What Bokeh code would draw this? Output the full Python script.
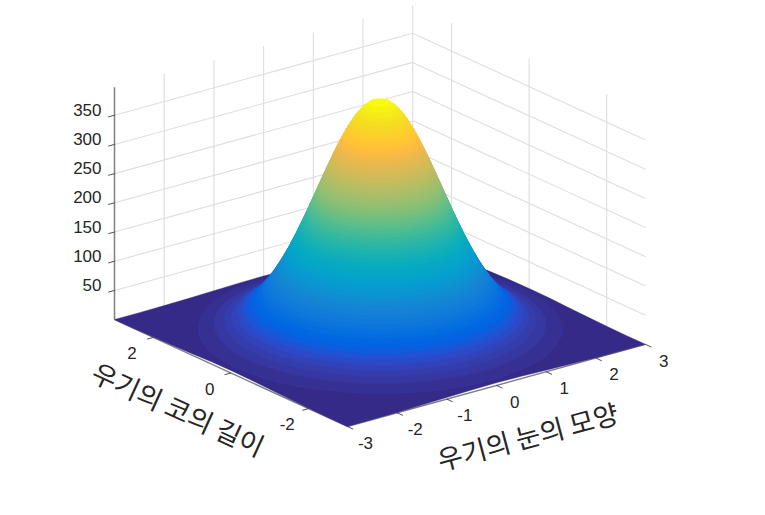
import math
from bokeh.plotting import figure
from bokeh.models import Range1d, ColumnDataSource
from bokeh.core.properties import value
from bokeh.embed import file_html
from bokeh.resources import INLINE

# ---- data ----
x_ticks = [-3, -2, -1, 0, 1, 2, 3]
y_ticks = [-2, 0, 2]
z_ticks = [50, 100, 150, 200, 250, 300, 350]
x_label = "우기의 눈의 모양"
y_label = "우기의 코의 길이"
peak_height = 398.0
# radius at which the surface enters each successive colour step (one per step above the floor)
level_radius = [
    2.884, 2.633, 2.474, 2.355, 2.258, 2.176, 2.104, 2.039, 1.981, 1.927,
    1.877, 1.830, 1.786, 1.743, 1.703, 1.665, 1.628, 1.593, 1.559, 1.525,
    1.493, 1.461, 1.431, 1.401, 1.371, 1.342, 1.314, 1.286, 1.258, 1.231,
    1.204, 1.177, 1.151, 1.125, 1.099, 1.073, 1.047, 1.021, 0.995, 0.970,
    0.944, 0.918, 0.892, 0.866, 0.839, 0.813, 0.786, 0.759, 0.731, 0.703,
    0.674, 0.644, 0.614, 0.583, 0.551, 0.517, 0.481, 0.444, 0.404, 0.359,
    0.310, 0.252, 0.177,
]
# height of the surface along each side of the box, which lifts off the axis mid-way
edge_position = [-3, -2.5, -2, -1.5, -1, -0.5, 0, 0.5, 1, 1.5, 2, 2.5, 3]
edge_height = [0.05, 0.19, 0.6, 1.43, 2.68, 3.9, 4.41, 3.9, 2.68, 1.43, 0.6, 0.19, 0.05]
parula = [
    (0.2081,0.1663,0.5292),(0.2116,0.1898,0.5777),(0.2123,0.2138,0.6270),(0.2081,0.2386,0.6771),
    (0.1959,0.2645,0.7279),(0.1707,0.2919,0.7792),(0.1253,0.3242,0.8303),(0.0591,0.3598,0.8683),
    (0.0117,0.3875,0.8820),(0.0060,0.4086,0.8828),(0.0165,0.4266,0.8786),(0.0329,0.4430,0.8720),
    (0.0498,0.4586,0.8641),(0.0629,0.4737,0.8554),(0.0723,0.4887,0.8467),(0.0779,0.5040,0.8384),
    (0.0793,0.5200,0.8312),(0.0749,0.5375,0.8263),(0.0641,0.5570,0.8240),(0.0488,0.5772,0.8228),
    (0.0343,0.5966,0.8199),(0.0265,0.6137,0.8135),(0.0239,0.6287,0.8038),(0.0231,0.6418,0.7913),
    (0.0228,0.6535,0.7768),(0.0267,0.6642,0.7607),(0.0384,0.6743,0.7436),(0.0590,0.6838,0.7254),
    (0.0843,0.6928,0.7062),(0.1133,0.7015,0.6859),(0.1453,0.7098,0.6646),(0.1801,0.7177,0.6424),
    (0.2178,0.7250,0.6193),(0.2586,0.7317,0.5954),(0.3022,0.7376,0.5712),(0.3482,0.7424,0.5473),
    (0.3953,0.7459,0.5244),(0.4420,0.7481,0.5033),(0.4871,0.7491,0.4840),(0.5300,0.7491,0.4661),
    (0.5709,0.7485,0.4494),(0.6099,0.7473,0.4337),(0.6473,0.7456,0.4188),(0.6834,0.7435,0.4044),
    (0.7184,0.7411,0.3905),(0.7525,0.7384,0.3768),(0.7858,0.7356,0.3633),(0.8185,0.7327,0.3498),
    (0.8507,0.7299,0.3360),(0.8824,0.7274,0.3217),(0.9139,0.7258,0.3063),(0.9450,0.7261,0.2886),
    (0.9739,0.7314,0.2666),(0.9938,0.7455,0.2403),(0.9990,0.7653,0.2164),(0.9955,0.7861,0.1967),
    (0.9880,0.8066,0.1794),(0.9789,0.8271,0.1633),(0.9697,0.8481,0.1475),(0.9626,0.8705,0.1309),
    (0.9589,0.8949,0.1132),(0.9598,0.9218,0.0948),(0.9661,0.9514,0.0755),(0.9763,0.9831,0.0538),
]

# ---- view: orthographic projection of the box into the page ----
ORIGIN = (379.5, 331.5)     # floor centre
UX = (49.7, -13.67)         # one X unit
UY = (-38.8, -17.8)         # one Y unit
UZ = -0.584                 # one Z unit
LIM = 3.0
Z_TOP = peak_height

def proj(x, y, z=0.0):
    return (ORIGIN[0] + UX[0] * x + UY[0] * y,
            ORIGIN[1] + UX[1] * x + UY[1] * y + UZ * z)

def hexcol(c):
    return "#%02x%02x%02x" % tuple(int(round(v * 255)) for v in c)

def midcol(c, d):
    return hexcol(tuple((u + v) / 2 for u, v in zip(c, d)))

p = figure(width=749, height=499, output_backend="svg", toolbar_location=None,
           x_range=Range1d(0, 749), y_range=Range1d(499, 0), min_border=0,
           background_fill_color="white", border_fill_color="white")
p.axis.visible = False
p.grid.visible = False
p.outline_line_color = None

GRID = "#dedede"
AXIS = "#808080"
INK = "#262626"

def seg(a, b, color, width):
    p.line([a[0], b[0]], [a[1], b[1]], line_color=color, line_width=width)

# walls
for z in z_ticks:
    seg(proj(-LIM, LIM, z), proj(LIM, LIM, z), GRID, 1.1)
    seg(proj(LIM, LIM, z), proj(LIM, -LIM, z), GRID, 1.1)
for x in x_ticks[1:]:
    seg(proj(x, LIM, 0), proj(x, LIM, Z_TOP), GRID, 1.1)
for y in y_ticks:
    seg(proj(LIM, y, 0), proj(LIM, y, Z_TOP), GRID, 1.1)

# axis lines
seg(proj(-LIM, LIM, 0), proj(-LIM, LIM, Z_TOP), AXIS, 1.5)
seg(proj(-LIM, LIM, 0), proj(-LIM, -LIM, 0), AXIS, 1.5)
seg(proj(-LIM, -LIM, 0), proj(LIM, -LIM, 0), AXIS, 1.5)

# floor (lowest colour step), lifted along its sides as the surface is
floor = []
for t, h in zip(edge_position, edge_height):
    floor.append(proj(t, -LIM, h))
for t, h in zip(edge_position, edge_height):
    floor.append(proj(LIM, t, h))
for t, h in zip(reversed(edge_position), edge_height):
    floor.append(proj(t, LIM, h))
for t, h in zip(reversed(edge_position), edge_height):
    floor.append(proj(-LIM, t, h))
p.patch([c[0] for c in floor], [c[1] for c in floor],
        fill_color=hexcol(parula[0]), line_color=hexcol(parula[0]), line_width=0.4)

# surface: rings of constant colour, split into the half behind and the half in
# front of the peak, painted far to near
view_angle = math.atan2(UX[0], -UY[0])   # floor direction that goes straight up the page
n_bands = len(level_radius)
radii = level_radius + [0.0]
heights = [peak_height * (i + 1) / (n_bands + 1) for i in range(n_bands)] + [peak_height]

def ring(i, start):
    arc = [start + math.pi * k / 60 for k in range(61)]
    ro, ri = radii[i], radii[i + 1]
    zo, zi = heights[i], heights[i + 1]
    outer = [proj(ro * math.cos(a), ro * math.sin(a), zo) for a in arc]
    inner = [proj(ri * math.cos(a), ri * math.sin(a), zi) for a in reversed(arc)]
    pts = outer + inner
    return [q[0] for q in pts], [q[1] for q in pts]

xs, ys, fills, strokes = [], [], [], []
for i in range(n_bands):                       # back half, outermost first
    a, b = ring(i, view_angle - math.pi / 2)
    xs.append(a); ys.append(b); fills.append(hexcol(parula[i + 1])); strokes.append(hexcol(parula[i + 1]))
for i in range(n_bands - 1, -1, -1):           # front half, innermost first
    a, b = ring(i, view_angle + math.pi / 2)
    xs.append(a); ys.append(b); fills.append(hexcol(parula[i + 1]))
    # the edge shared with the next step up takes the colour half-way, softening the step
    strokes.append(midcol(parula[i + 1], parula[min(i + 2, len(parula) - 1)]))
p.patches("xs", "ys", fill_color="fills", line_color="strokes", line_width=1.2,
          source=ColumnDataSource(dict(xs=xs, ys=ys, fills=fills, strokes=strokes)))

# ticks
def unit(v, n):
    l = math.hypot(*v)
    return (v[0] / l * n, v[1] / l * n)

tx = unit((-UY[0], -UY[1]), 6.5)
ty = unit((-UX[0], -UX[1]), 6.5)
for x in x_ticks:
    a = proj(x, -LIM)
    seg(a, (a[0] + tx[0], a[1] + tx[1]), INK, 0.8)
for y in y_ticks:
    a = proj(-LIM, y)
    seg(a, (a[0] + ty[0], a[1] + ty[1]), INK, 0.8)
for z in z_ticks:
    a = proj(-LIM, LIM, z)
    seg(a, (a[0] + ty[0], a[1] + ty[1]), INK, 0.8)

# tick labels
FONT = value("Liberation Sans")
def label(x, y, s, align="center", size="17px"):
    p.text([x], [y], text=[s], text_font=FONT, text_font_size=size, text_color=INK,
           text_align=align, text_baseline="middle")

for x in x_ticks:
    a = proj(x, -LIM)
    label(a[0] + 2.83 * tx[0] + 1.5, a[1] + 2.83 * tx[1] + 8.5, str(x))
for y in y_ticks:
    a = proj(-LIM, y)
    label(a[0] + 2.83 * ty[0] - 3.5, a[1] + 2.83 * ty[1] + 11, str(y))
for z in z_ticks:
    a = proj(-LIM, LIM, z)
    label(101, a[1] - 5.5, str(z), align="right")

# axis titles
KFONT = value("Noto Sans CJK KR")
p.text([527], [435], text=[x_label], text_font=KFONT, text_font_size="27px", text_color=INK,
       text_align="center", text_baseline="middle", angle=math.radians(15), angle_units="rad")
p.text([178], [408], text=[y_label], text_font=KFONT, text_font_size="27px", text_color=INK,
       text_align="center", text_baseline="middle", angle=math.radians(-24.6), angle_units="rad")

open("out.html", "w").write(file_html(p, INLINE))
